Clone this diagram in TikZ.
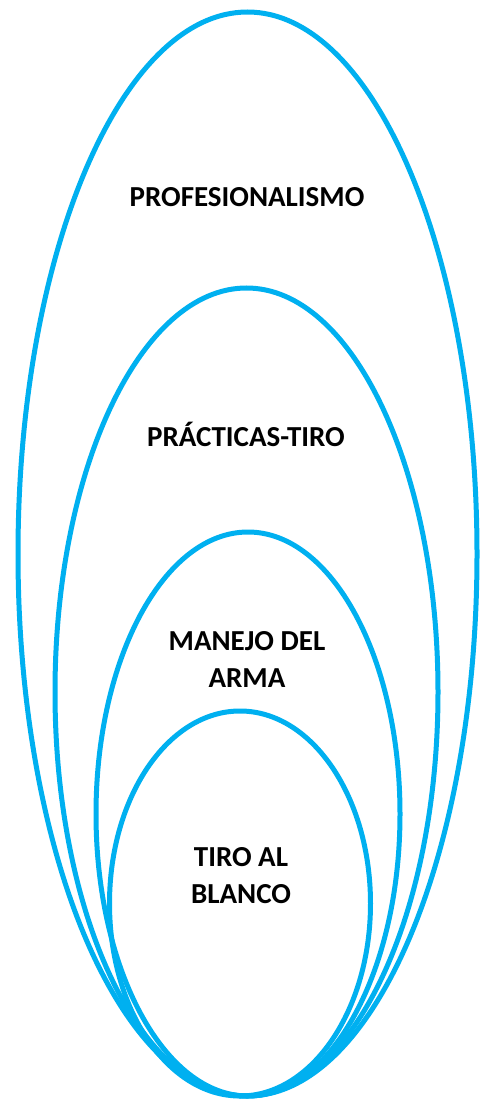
\documentclass[tikz,border=0pt]{standalone}
\usepackage{fontspec}
\setmainfont{Carlito}
\definecolor{ringblue}{HTML}{00B0F0}
\begin{document}
\begin{tikzpicture}[x=1pt,y=-1pt,
  ring/.style={draw=ringblue,line width=5pt},
  lbl/.style={font=\fontsize{29}{37}\selectfont\bfseries,align=center,text=black,inner sep=0pt}]
\useasboundingbox[fill=white] (0,0) rectangle (479,1099);
\draw[ring] (247.5,554) ellipse [x radius=229.5,y radius=542];
\draw[ring] (246.5,692) ellipse [x radius=191.5,y radius=404];
\draw[ring] (248,814) ellipse [x radius=152,y radius=282];
\draw[ring] (240,903.5) ellipse [x radius=130.5,y radius=192.5];
\node[lbl] (p) at (247,197) {PROFESIONALISMO};
\node[lbl] (t) at (246,434) {PRÁCTICAS-TIRO};
\node[lbl] (m) at (247,659) {MANEJO DEL\\ARMA};
\node[lbl] (b) at (241,876) {TIRO AL\\BLANCO};
\end{tikzpicture}
\end{document}
